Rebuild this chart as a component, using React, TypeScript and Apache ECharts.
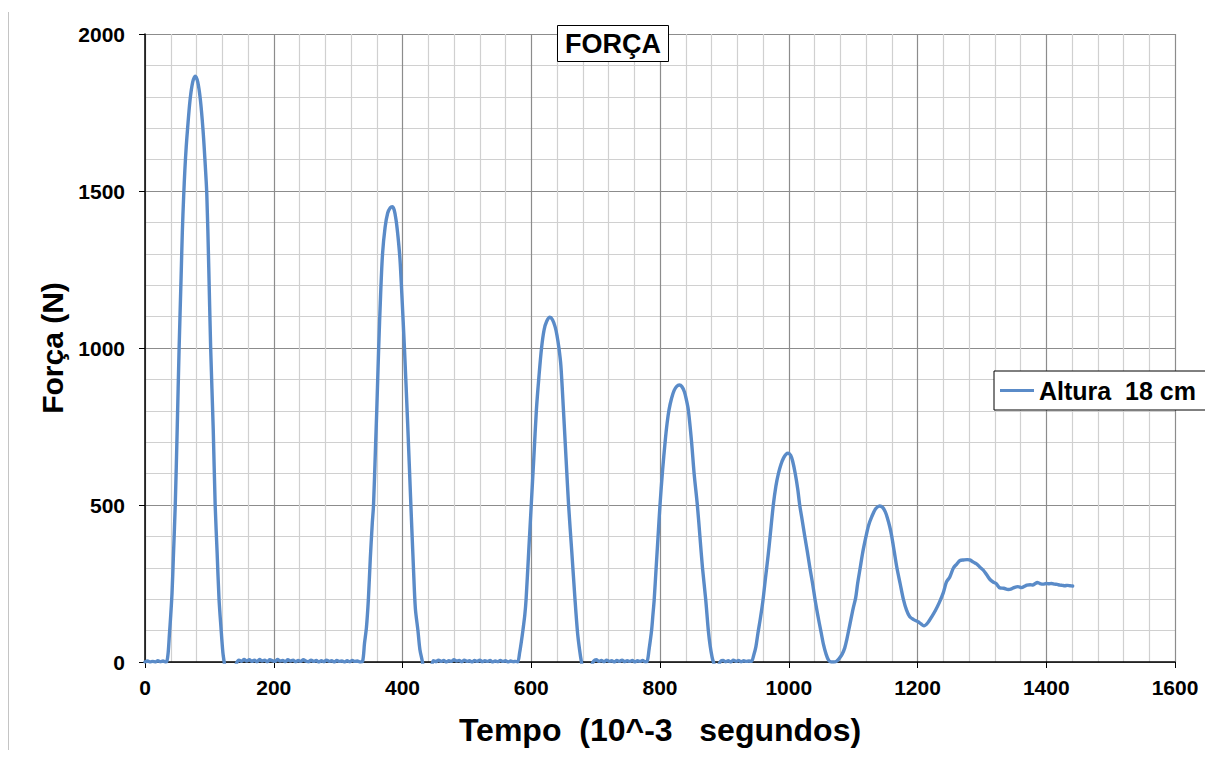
import React, { useEffect, useRef } from "react";
import * as echarts from "echarts";

const FONT = "'Liberation Sans', Arial, sans-serif";

const titleText = "FORÇA";
const seriesName = "Altura  18 cm";
const xAxisName = "Tempo  (10^-3   segundos)";
const yAxisName = "Força (N)";

// time in 10^-3 s
const time = [
  0, 4, 8, 12, 16, 20, 24, 28, 32, 34,
  36, 38, 40, 42, 44, 47, 50, 53, 56, 58, 60, 62, 64, 66, 70, 74, 78, 82, 86, 90, 93, 96, 99, 102, 106, 109, 112, 115, 118, 121, 123, 126, 132, 138, 142,
  146, 150, 154, 158, 162, 166, 170, 174, 178, 182, 186, 190, 194, 198, 202, 206, 210, 214, 218, 222, 226, 230, 234, 238, 242, 246, 250, 254, 258, 262, 266, 270, 274, 278, 282, 286, 290, 294, 298, 302, 306, 310, 314, 318, 322, 326, 330, 334, 338,
  341, 344, 347, 350, 353, 355, 358, 360, 363, 366, 369, 373, 377, 381, 384, 387, 390, 393, 396, 399, 403, 408, 413, 417, 420, 424, 427, 431, 434, 440, 445,
  448, 452, 456, 460, 464, 468, 472, 476, 480, 484, 488, 492, 496, 500, 504, 508, 512, 516, 520, 524, 528, 532, 536, 540, 544, 548, 552, 556, 560, 564, 568, 572, 576, 579,
  582, 585, 587, 590, 592, 596, 600, 604, 608, 612, 616, 620, 624, 629, 633, 637, 640, 643, 646, 650, 654, 658, 663, 668, 672, 675, 678, 682, 688, 694,
  697, 701, 705, 709, 713, 717, 721, 725, 729, 733, 737, 741, 745, 749, 753, 757, 761, 765, 769, 773, 777, 780,
  783, 787, 789, 791, 794, 797, 800, 804, 808, 811, 814, 818, 822, 826, 830, 834, 838, 841, 844, 849, 853, 858, 862, 866, 871, 875, 878, 881, 883, 887, 891,
  894, 898, 902, 906, 910, 914, 918, 922, 926, 930, 934, 938, 942,
  946, 949, 952, 956, 960, 964, 968, 971, 976, 980, 984, 988, 992, 996, 999, 1003, 1006, 1010, 1014, 1017, 1021, 1025, 1029, 1033, 1037, 1041, 1045, 1050, 1054, 1058, 1062, 1066, 1070, 1074,
  1078, 1083, 1087, 1090, 1095, 1100, 1104, 1107, 1111, 1115, 1120, 1124, 1129, 1135, 1141, 1146, 1150, 1153, 1157, 1160, 1164, 1168, 1173, 1178, 1183, 1188, 1194, 1201, 1205, 1210,
  1216, 1222, 1228, 1234, 1240, 1245, 1250, 1256, 1261, 1266, 1272, 1277, 1281, 1287, 1292, 1297, 1302, 1308, 1313, 1318, 1322, 1328, 1334, 1341, 1346, 1351, 1356, 1362, 1366, 1370,
  1375, 1379, 1383, 1386, 1390, 1395, 1400, 1404, 1408, 1413, 1417, 1421, 1425, 1429, 1433, 1437, 1441,
];

// force in N
const force = [
  0, 3, 0, 2, 0, 4, 1, 3, 0, 2,
  30, 90, 150, 220, 330, 500, 740, 1000, 1220, 1370, 1480, 1570, 1640, 1695, 1790, 1846, 1866, 1847, 1791, 1698, 1603, 1490, 1260, 1000, 740, 500, 350, 200, 110, 30, 0, -40, -60, -40, -5,
  6, 2, 8, 3, 7, 2, 6, 1, 8, 3, 6, 1, 7, 4, 2, 8, 3, 5, 1, 7, 3, 6, 1, 5, 2, 7, 3, 1, 6, 2, 5, 0, 4, 1, 6, 2, 4, 0, 5, 2, 3, 0, 4, 1, 5, 2, 3, 0, 2,
  60, 110, 200, 330, 440, 500, 680, 800, 1000, 1170, 1300, 1385, 1430, 1447, 1450, 1440, 1408, 1355, 1285, 1170, 1000, 760, 500, 300, 170, 100, 40, 0, -40, -50, -15,
  4, 1, 6, 2, 5, 0, 4, 2, 7, 3, 5, 1, 6, 2, 4, 0, 5, 2, 6, 1, 4, 2, 5, 0, 3, 1, 5, 2, 4, 0, 3, 1, 2, 0,
  30, 70, 100, 150, 200, 350, 500, 650, 803, 910, 1000, 1058, 1085, 1098, 1090, 1068, 1040, 1000, 945, 803, 650, 500, 350, 198, 91, 40, 0, -40, -50, -10,
  3, 7, 2, 5, 1, 6, 2, 4, 0, 5, 2, 6, 1, 4, 2, 5, 0, 4, 2, 5, 1, 2,
  40, 102, 150, 199, 300, 400, 500, 610, 702, 760, 803, 840, 865, 878, 882, 877, 860, 835, 803, 702, 600, 500, 400, 300, 199, 102, 50, 15, 0, -20, -10,
  2, 5, 1, 4, 0, 6, 2, 5, 1, 4, 2, 3, 2,
  25, 49, 90, 140, 197, 270, 340, 399, 500, 560, 601, 630, 650, 662, 665, 658, 640, 601, 550, 500, 450, 399, 350, 298, 250, 197, 150, 97, 55, 25, 5, 0, 0, 2,
  10, 25, 45, 70, 120, 170, 205, 250, 300, 350, 400, 435, 463, 488, 497, 492, 478, 460, 430, 400, 350, 300, 250, 200, 165, 144, 135, 128, 122, 115,
  125, 144, 165, 190, 220, 255, 270, 300, 312, 323, 325, 326, 325, 318, 312, 302, 293, 276, 262, 254, 250, 236, 235, 231, 233, 238, 240, 237, 241, 245,
  246, 245, 250, 253, 250, 248, 250, 249, 250, 248, 247, 245, 244, 243, 244, 243, 242,
];

export default function App() {
  const ref = useRef<HTMLDivElement>(null);

  useEffect(() => {
    if (!ref.current) return;
    const chart = echarts.init(ref.current, undefined, { renderer: "svg" });
    const data = time.map((t, i) => [t, force[i]]);
    const label = { fontSize: 21, fontWeight: "bold", color: "#000", fontFamily: FONT, formatter: (v: number) => String(v) };
    chart.setOption({
      animation: false,
      backgroundColor: "#fff",
      textStyle: { fontFamily: FONT },
      title: {
        text: titleText,
        left: 557,
        top: 25,
        padding: [5, 8],
        borderColor: "#000",
        borderWidth: 1,
        backgroundColor: "#fff",
        textStyle: { fontSize: 27, fontWeight: "bold", color: "#000", fontFamily: FONT },
      },
      legend: {
        left: 994,
        top: 371,
        orient: "vertical",
        padding: [7, 40, 7, 6],
        borderColor: "#000",
        borderWidth: 1,
        backgroundColor: "#fff",
        itemWidth: 34,
        itemHeight: 3,
        itemGap: 0,
        data: [{ name: seriesName, icon: "rect" }],
        textStyle: { fontSize: 25, fontWeight: "bold", color: "#000", fontFamily: FONT },
      },
      grid: { left: 145, top: 34, right: 30, bottom: 100, containLabel: false },
      xAxis: {
        type: "value",
        min: 0,
        max: 1600,
        interval: 200,
        name: xAxisName,
        nameLocation: "middle",
        nameGap: 52,
        nameTextStyle: { fontSize: 32, fontWeight: "bold", color: "#000", fontFamily: FONT },
        axisLine: { show: true, lineStyle: { color: "#000", width: 1.5 } },
        axisTick: { show: true, length: 6, lineStyle: { color: "#000", width: 1 } },
        minorTick: { show: false, splitNumber: 5 },
        splitLine: { show: true, lineStyle: { color: "#8c8c8c", width: 1.2 } },
        minorSplitLine: { show: true, lineStyle: { color: "#d0d0d0", width: 1.2 } },
        axisLabel: { ...label, margin: 15 },
      },
      yAxis: {
        type: "value",
        min: 0,
        max: 2000,
        interval: 500,
        name: yAxisName,
        nameLocation: "middle",
        nameGap: 72,
        nameTextStyle: { fontSize: 30, fontWeight: "bold", color: "#000", fontFamily: FONT },
        axisLine: { show: true, lineStyle: { color: "#000", width: 1.5 } },
        axisTick: { show: true, length: 6, lineStyle: { color: "#000", width: 1 } },
        minorTick: { show: false, splitNumber: 5 },
        splitLine: { show: true, lineStyle: { color: "#8c8c8c", width: 1.2 } },
        minorSplitLine: { show: true, lineStyle: { color: "#d0d0d0", width: 1.2 } },
        axisLabel: { ...label, margin: 20 },
      },
      graphic: [
        {
          type: "line",
          shape: { x1: 8.5, y1: 12, x2: 8.5, y2: 750 },
          style: { stroke: "#c4c4c4", lineWidth: 1 },
        },
      ],
      series: [
        {
          name: seriesName,
          type: "line",
          data,
          showSymbol: false,
          symbol: "none",
          clip: true,
          smooth: 0.3,
          color: "#5A8BC8",
          lineStyle: { color: "#5A8BC8", width: 3.4, join: "round", cap: "round" },
        },
      ],
    });
    return () => chart.dispose();
  }, []);

  return (
    <div
      ref={ref}
      style={{ position: "fixed", left: 0, top: 0, width: 1205, height: 762, background: "#fff" }}
    />
  );
}
